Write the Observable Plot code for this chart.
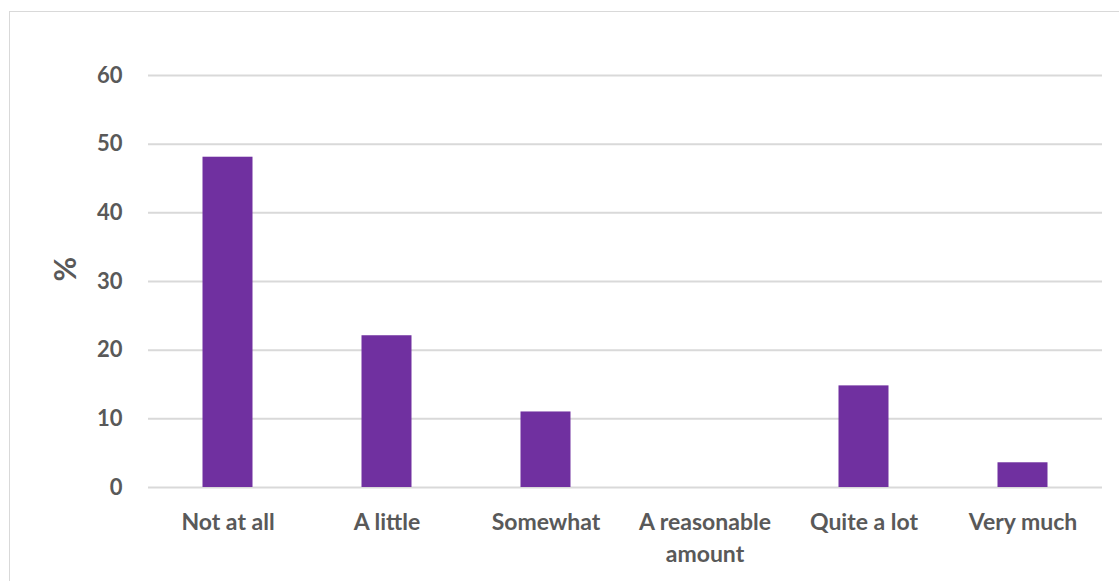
<!DOCTYPE html>
<html>
<head>
<meta charset="utf-8">
<script src="https://cdn.jsdelivr.net/npm/d3@7"></script>
<script src="https://cdn.jsdelivr.net/npm/@observablehq/plot@0.6"></script>
<style>
  html, body { margin: 0; padding: 0; background: #fff; overflow: hidden; }
  #wrap { position: relative; width: 1119px; height: 581px; }
  #frame { position: absolute; left: 9px; top: 11px; width: 1130px; height: 590px; border: 1.5px solid #d9d9d9; box-sizing: border-box; }
  #chart { position: absolute; left: 0; top: 0; }
</style>
</head>
<body>
<div id="wrap"><div id="frame"></div><div id="chart"></div></div>
<script>
const categories = ["Not at all", "A little", "Somewhat", "A reasonable\namount", "Quite a lot", "Very much"];
const values = [48.1, 22.1, 11.0, 0, 14.8, 3.6];
const yTicks = [0, 10, 20, 30, 40, 50, 60];

const data = categories.map((c, i) => ({category: c, value: values[i]}));

const plot = Plot.plot({
  width: 1119,
  height: 581,
  marginTop: 75,
  marginBottom: 94,
  marginLeft: 148,
  marginRight: 17,
  style: {fontFamily: "Lato, 'Open Sans', sans-serif", fontWeight: "bold", color: "#595959", background: "transparent"},
  x: {domain: categories, padding: 0, label: null},
  y: {domain: [0, 60], ticks: yTicks, label: null},
  marks: [
    Plot.gridY(yTicks, {stroke: "#d9d9d9", strokeOpacity: 1, strokeWidth: 2}),
    Plot.barY(data, {x: "category", y: "value", fill: "#7030A0", insetLeft: 54.5, insetRight: 54.5}),
    Plot.axisY(yTicks, {tickSize: 0, tickPadding: 26, fontSize: 22, fontWeight: "bold", fill: "#595959", label: null}),
    Plot.axisX({tickSize: 0, tickPadding: 20, fontSize: 23, fontWeight: "bold", fill: "#595959", label: null, lineHeight: 1.38}),
    Plot.text(["%"], {frameAnchor: "left", dx: -82, rotate: -90, fontSize: 30, fontWeight: "bold", fill: "#595959"})
  ]
});
document.getElementById("chart").appendChild(plot);
</script>
</body>
</html>
